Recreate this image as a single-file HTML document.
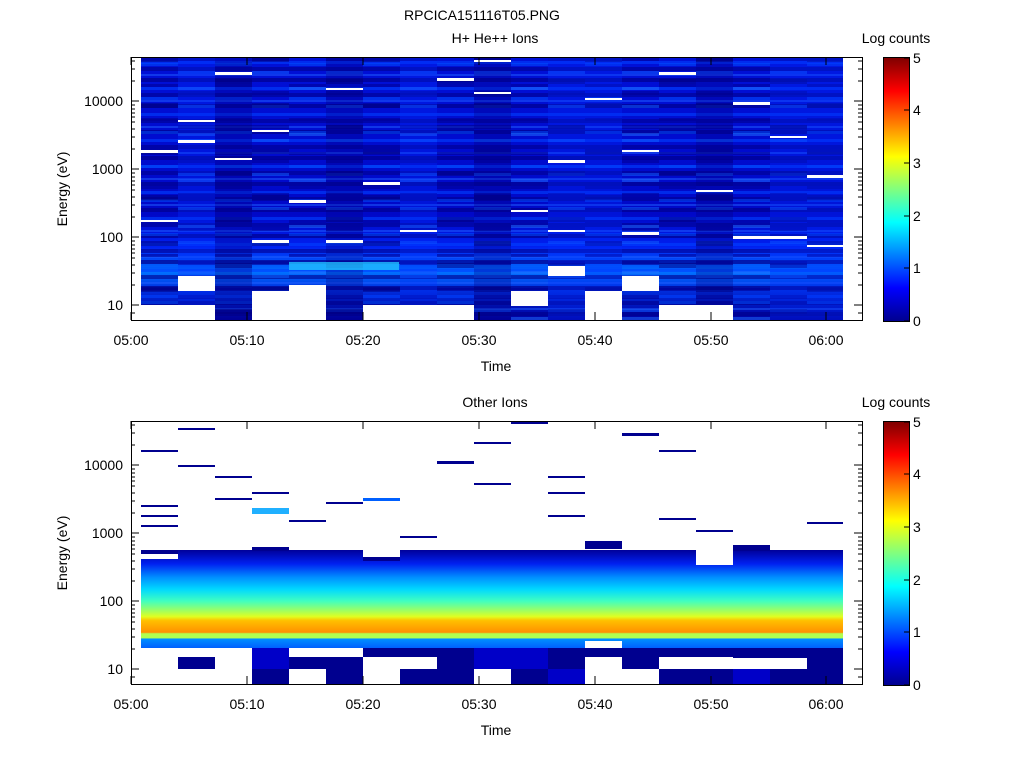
<!DOCTYPE html>
<html><head><style>
body{margin:0;background:#fff;}
svg{display:block;font-family:"Liberation Sans",sans-serif;}
</style></head><body>
<svg width="1024" height="768" xmlns="http://www.w3.org/2000/svg">
<defs>
<linearGradient id="jet" x1="0" y1="1" x2="0" y2="0">
<stop offset="0" stop-color="#00008f"/><stop offset="0.125" stop-color="#0000ff"/>
<stop offset="0.375" stop-color="#00ffff"/><stop offset="0.625" stop-color="#ffff00"/>
<stop offset="0.875" stop-color="#ff0000"/><stop offset="1" stop-color="#800000"/>
</linearGradient>
<linearGradient id="topg" x1="0" y1="0" x2="0" y2="1">
<stop offset="0" stop-color="#0010d8"/><stop offset="0.6" stop-color="#0008c8"/>
<stop offset="0.72" stop-color="#0020f0"/><stop offset="0.82" stop-color="#0070ff"/>
<stop offset="0.88" stop-color="#0030e0"/><stop offset="1" stop-color="#0000a0"/>
</linearGradient>
<pattern id="str" width="37" height="26" patternUnits="userSpaceOnUse">
<rect y="0" width="37" height="4" fill="#00008f" opacity="0.7"/>
<rect y="9" width="37" height="3" fill="#0040ff" opacity="0.6"/>
<rect y="15" width="37" height="4" fill="#000090" opacity="0.6"/>
<rect y="22" width="37" height="2" fill="#2060ff" opacity="0.5"/>
</pattern>
<pattern id="str2" width="74" height="34" patternUnits="userSpaceOnUse" patternTransform="translate(141,11)">
<rect y="5" width="37" height="3" fill="#00009a" opacity="0.6"/>
<rect x="37" y="12" width="37" height="4" fill="#00009a" opacity="0.6"/>
<rect y="18" width="37" height="3" fill="#0050ff" opacity="0.5"/>
<rect x="37" y="26" width="37" height="3" fill="#1060ff" opacity="0.5"/>
</pattern>
<pattern id="str3" width="111" height="46" patternUnits="userSpaceOnUse" patternTransform="translate(141,3)">
<rect y="8" width="37" height="5" fill="#000080" opacity="0.5"/>
<rect x="74" y="30" width="37" height="5" fill="#000080" opacity="0.5"/>
<rect x="37" y="38" width="37" height="3" fill="#2070ff" opacity="0.5"/>
</pattern>
<linearGradient id="botg" x1="0" y1="0" x2="0" y2="1">
<stop offset="0" stop-color="#00009a"/><stop offset="0.14" stop-color="#0020f0"/>
<stop offset="0.28" stop-color="#0090ff"/><stop offset="0.4" stop-color="#00d8ff"/>
<stop offset="0.52" stop-color="#40ffc0"/><stop offset="0.62" stop-color="#a0ff60"/>
<stop offset="0.68" stop-color="#e0ff20"/><stop offset="0.72" stop-color="#ffc000"/>
<stop offset="0.80" stop-color="#ffa000"/><stop offset="0.84" stop-color="#ff9000"/>
<stop offset="0.855" stop-color="#b0ff50"/><stop offset="0.90" stop-color="#b0ff50"/>
<stop offset="0.905" stop-color="#0090ff"/><stop offset="1" stop-color="#0060ff"/>
</linearGradient>
</defs>
<text x="482" y="20" font-size="14" text-anchor="middle">RPCICA151116T05.PNG</text>
<text x="495" y="43" font-size="14" text-anchor="middle">H+ He++ Ions</text>
<text x="495" y="407" font-size="14" text-anchor="middle">Other Ions</text>
<text x="896" y="43" font-size="14" text-anchor="middle">Log counts</text>
<text x="896" y="407" font-size="14" text-anchor="middle">Log counts</text>

<!-- top data -->
<rect x="141" y="57" width="702" height="263" fill="url(#topg)"/>
<rect x="141" y="57" width="702" height="263" fill="url(#str)"/>
<rect x="141" y="57" width="702" height="263" fill="url(#str2)"/>
<rect x="141" y="57" width="702" height="263" fill="url(#str3)"/>
<g fill="#0030ff" opacity="0.3">
<rect x="178" y="57" width="37" height="263"/><rect x="400" y="57" width="37" height="263"/><rect x="548" y="57" width="74" height="263"/><rect x="770" y="57" width="73" height="263"/>
</g>
<g fill="#000080" opacity="0.3">
<rect x="215" y="57" width="37" height="263"/><rect x="326" y="57" width="37" height="263"/><rect x="474" y="57" width="37" height="263"/><rect x="696" y="57" width="37" height="263"/>
</g>
<g fill="#fff">
<rect x="141" y="305" width="74" height="15"/><rect x="178" y="276" width="37" height="15"/>
<rect x="252" y="291" width="37" height="29"/><rect x="289" y="285" width="37" height="35"/>
<rect x="363" y="305" width="37" height="15"/><rect x="400" y="305" width="37" height="15"/>
<rect x="437" y="305" width="37" height="15"/><rect x="511" y="291" width="37" height="15"/>
<rect x="585" y="291" width="37" height="29"/><rect x="622" y="276" width="37" height="15"/>
<rect x="659" y="305" width="74" height="15"/><rect x="548" y="266" width="37" height="10"/>
<rect x="141" y="150" width="37" height="3"/><rect x="178" y="120" width="37" height="2"/><rect x="215" y="72" width="37" height="3"/><rect x="252" y="130" width="37" height="2"/><rect x="289" y="200" width="37" height="3"/><rect x="326" y="88" width="37" height="2"/><rect x="363" y="182" width="37" height="3"/><rect x="400" y="230" width="37" height="2"/><rect x="437" y="78" width="37" height="3"/><rect x="474" y="92" width="37" height="2"/><rect x="511" y="210" width="37" height="2"/><rect x="548" y="160" width="37" height="3"/><rect x="585" y="98" width="37" height="2"/><rect x="622" y="150" width="37" height="2"/><rect x="659" y="72" width="37" height="3"/><rect x="696" y="190" width="37" height="2"/><rect x="733" y="102" width="37" height="3"/><rect x="770" y="136" width="37" height="2"/><rect x="807" y="175" width="36" height="3"/>
<rect x="141" y="220" width="37" height="2"/><rect x="215" y="158" width="37" height="2"/><rect x="252" y="240" width="37" height="3"/><rect x="326" y="240" width="37" height="3"/><rect x="474" y="60" width="37" height="2"/><rect x="548" y="230" width="37" height="2"/><rect x="622" y="232" width="37" height="3"/><rect x="733" y="236" width="74" height="3"/><rect x="807" y="245" width="36" height="2"/><rect x="178" y="140" width="37" height="3"/>
</g>
<rect x="289" y="262" width="110" height="8" fill="#20c0ff" opacity="0.8"/>

<!-- bottom data -->
<rect x="141" y="550" width="702" height="98" fill="url(#botg)"/>
<g fill="#fff">
<rect x="141" y="545" width="37" height="14"/><rect x="363" y="545" width="37" height="12"/><rect x="585" y="641" width="37" height="7"/><rect x="696" y="545" width="37" height="20"/>
</g>
<g fill="#00008f">
<rect x="141" y="550" width="37" height="4"/><rect x="252" y="547" width="37" height="4"/><rect x="363" y="557" width="37" height="4"/><rect x="585" y="541" width="37" height="8"/><rect x="733" y="545" width="37" height="6"/>
<rect x="363" y="648" width="480" height="9"/>
<rect x="178" y="657" width="37" height="12"/><rect x="289" y="657" width="74" height="12"/><rect x="437" y="648" width="37" height="21"/><rect x="511" y="657" width="74" height="12"/><rect x="622" y="657" width="37" height="12"/><rect x="733" y="648" width="74" height="10"/><rect x="807" y="657" width="36" height="12"/>
<rect x="252" y="669" width="37" height="15"/><rect x="326" y="669" width="37" height="15"/><rect x="400" y="669" width="74" height="15"/><rect x="511" y="669" width="74" height="15"/><rect x="659" y="669" width="148" height="15"/><rect x="807" y="669" width="36" height="15"/>
<rect x="141" y="450" width="37" height="2"/><rect x="178" y="428" width="37" height="2"/><rect x="178" y="465" width="37" height="2"/><rect x="215" y="476" width="37" height="2"/><rect x="252" y="492" width="37" height="2"/><rect x="326" y="502" width="37" height="2"/><rect x="437" y="461" width="37" height="3"/><rect x="474" y="442" width="37" height="2"/><rect x="511" y="422" width="37" height="2"/><rect x="548" y="476" width="37" height="2"/><rect x="622" y="433" width="37" height="3"/><rect x="659" y="450" width="37" height="2"/><rect x="659" y="518" width="37" height="2"/><rect x="696" y="530" width="37" height="2"/>
<rect x="141" y="505" width="37" height="2"/><rect x="141" y="515" width="37" height="2"/><rect x="141" y="525" width="37" height="2"/><rect x="215" y="498" width="37" height="2"/><rect x="289" y="520" width="37" height="2"/><rect x="400" y="536" width="37" height="2"/><rect x="474" y="483" width="37" height="2"/><rect x="548" y="492" width="37" height="2"/><rect x="548" y="515" width="37" height="2"/><rect x="807" y="522" width="36" height="2"/>
</g>
<g fill="#0000c8"><rect x="474" y="648" width="74" height="21"/><rect x="252" y="648" width="37" height="21"/><rect x="548" y="669" width="37" height="15"/><rect x="733" y="669" width="37" height="15"/></g>
<rect x="363" y="498" width="37" height="3" fill="#0060ff"/><rect x="252" y="508" width="37" height="6" fill="#20b0ff"/>

<!-- axes -->
<g fill="none" stroke="#000" stroke-width="1">
<rect x="131.5" y="57.5" width="731" height="263"/>
<rect x="131.5" y="421.5" width="731" height="263"/>
<rect x="883.5" y="57.5" width="26" height="264"/>
<rect x="883.5" y="421.5" width="26" height="264"/>
</g>
<rect x="884" y="58" width="25" height="263" fill="url(#jet)"/>
<rect x="884" y="422" width="25" height="263" fill="url(#jet)"/>
<g id="ticks" stroke="#000">
<path d="M131 305h8M131 237h8M131 169h8M131 101h8M862 305h-8M862 237h-8M862 169h-8M862 101h-8
M131 285h4M131 273h4M131 265h4M131 258h4M131 253h4M131 249h4M131 245h4M131 241h4M131 217h4M131 205h4M131 197h4M131 190h4M131 185h4M131 181h4M131 177h4M131 173h4M131 149h4M131 137h4M131 129h4M131 122h4M131 117h4M131 113h4M131 109h4M131 105h4M131 81h4M131 69h4M131 61h4M131 313h4
M862 285h-4M862 273h-4M862 265h-4M862 258h-4M862 253h-4M862 249h-4M862 245h-4M862 241h-4M862 217h-4M862 205h-4M862 197h-4M862 190h-4M862 185h-4M862 181h-4M862 177h-4M862 173h-4M862 149h-4M862 137h-4M862 129h-4M862 122h-4M862 117h-4M862 113h-4M862 109h-4M862 105h-4M862 81h-4M862 69h-4M862 61h-4M862 313h-4
M131 320v-8M247 320v-8M363 320v-8M479 320v-8M595 320v-8M711 320v-8M826 320v-8M131 57v8M247 57v8M363 57v8M479 57v8M595 57v8M711 57v8M826 57v8
M909 321h-5M909 268h-5M909 216h-5M909 163h-5M909 110h-5M909 58h-5"/>
</g>
<use href="#ticks" y="364"/>
<g font-size="14">
<g text-anchor="end"><text x="123" y="310">10</text><text x="123" y="242">100</text><text x="123" y="174">1000</text><text x="123" y="106">10000</text>
<text x="123" y="674">10</text><text x="123" y="606">100</text><text x="123" y="538">1000</text><text x="123" y="470">10000</text></g>
<g text-anchor="middle"><text x="131" y="345">05:00</text><text x="247" y="345">05:10</text><text x="363" y="345">05:20</text><text x="479" y="345">05:30</text><text x="595" y="345">05:40</text><text x="711" y="345">05:50</text><text x="826" y="345">06:00</text>
<text x="496" y="371">Time</text>
<text x="131" y="709">05:00</text><text x="247" y="709">05:10</text><text x="363" y="709">05:20</text><text x="479" y="709">05:30</text><text x="595" y="709">05:40</text><text x="711" y="709">05:50</text><text x="826" y="709">06:00</text>
<text x="496" y="735">Time</text></g>
<text transform="translate(67,189) rotate(-90)" text-anchor="middle">Energy (eV)</text>
<text transform="translate(67,553) rotate(-90)" text-anchor="middle">Energy (eV)</text>
<g><text x="913" y="326">0</text><text x="913" y="273">1</text><text x="913" y="221">2</text><text x="913" y="168">3</text><text x="913" y="115">4</text><text x="913" y="63">5</text>
<text x="913" y="690">0</text><text x="913" y="637">1</text><text x="913" y="585">2</text><text x="913" y="532">3</text><text x="913" y="479">4</text><text x="913" y="427">5</text></g>
</g>
</svg>
</body></html>
